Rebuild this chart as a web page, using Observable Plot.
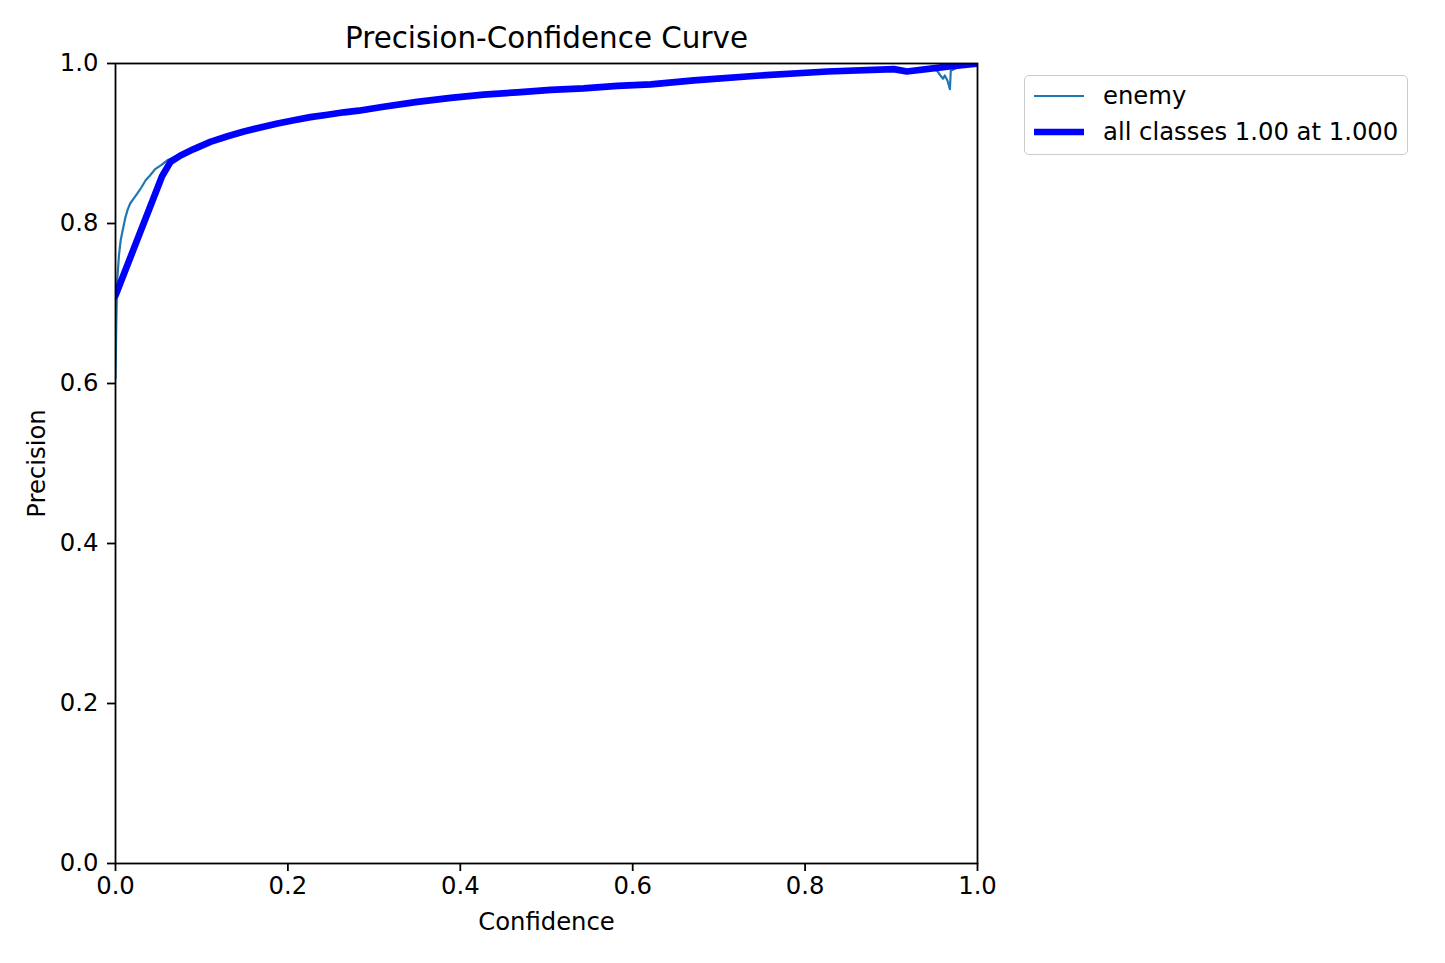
<!DOCTYPE html>
<html>
<head>
<meta charset="utf-8">
<script src="https://cdn.jsdelivr.net/npm/d3@7"></script>
<script src="https://cdn.jsdelivr.net/npm/@observablehq/plot@0.6"></script>
<style>
  html, body { margin: 0; padding: 0; background: white; }
  #wrap { position: relative; width: 1445px; height: 963px; font-family: "DejaVu Sans", sans-serif; }
  #legend { position: absolute; left: 1024px; top: 75px; width: 382px; height: 78px;
            border: 1.5px solid #cccccc; border-radius: 5px; background: rgba(255,255,255,0.8); }
  .row { position: absolute; left: 0; height: 30px; width: 100%; }
  .row svg { position: absolute; left: 6px; top: 0; }
  .row span { position: absolute; left: 78px; top: 0; line-height: 30px; font-size: 24.3px; color: black; white-space: nowrap; }
</style>
</head>
<body>
<div id="wrap">
  <div id="chart"></div>
  <div id="legend"></div>
</div>
<script>
// ---- data ----
const enemyConf = [0, 0.001, 0.002, 0.004, 0.006, 0.009, 0.0116, 0.014, 0.017, 0.021, 0.025, 0.030, 0.035, 0.040, 0.046, 0.053, 0.060, 0.066, 0.0716, 0.0800, 0.0908, 0.110, 0.130, 0.149, 0.168, 0.188, 0.207, 0.226, 0.246, 0.265, 0.282, 0.311, 0.350, 0.389, 0.427, 0.466, 0.505, 0.543, 0.582, 0.621, 0.671, 0.748, 0.826, 0.903, 0.918, 0.930, 0.945, 0.953, 0.957, 0.960, 0.962, 0.965, 0.968, 0.969, 0.980, 1.000];
const enemyPrec = [0.606, 0.680, 0.729, 0.760, 0.779, 0.795, 0.808, 0.817, 0.825, 0.831, 0.837, 0.845, 0.854, 0.860, 0.868, 0.873, 0.879, 0.882, 0.885, 0.888, 0.893, 0.902, 0.909, 0.915, 0.920, 0.925, 0.929, 0.933, 0.936, 0.939, 0.941, 0.946, 0.952, 0.957, 0.961, 0.964, 0.967, 0.969, 0.972, 0.974, 0.979, 0.985, 0.990, 0.993, 0.990, 0.992, 0.994, 0.991, 0.985, 0.981, 0.985, 0.979, 0.968, 0.991, 0.997, 1.000];

const allConf = [0, 0.054, 0.0638, 0.0754, 0.0908, 0.110, 0.130, 0.149, 0.168, 0.188, 0.207, 0.226, 0.246, 0.265, 0.282, 0.311, 0.350, 0.389, 0.427, 0.466, 0.505, 0.543, 0.582, 0.621, 0.671, 0.748, 0.826, 0.903, 0.918, 0.965, 1.000];
const allPrec = [0.710, 0.859, 0.877, 0.885, 0.893, 0.902, 0.909, 0.915, 0.920, 0.925, 0.929, 0.933, 0.936, 0.939, 0.941, 0.946, 0.952, 0.957, 0.961, 0.964, 0.967, 0.969, 0.972, 0.974, 0.979, 0.985, 0.990, 0.993, 0.990, 0.996, 1.000];

const xTicks = [0, 0.2, 0.4, 0.6, 0.8, 1.0];
const yTicks = [0, 0.2, 0.4, 0.6, 0.8, 1.0];

const seriesNames = ["enemy", "all classes 1.00 at 1.000"];
const seriesColors = ["#1f77b4", "#0000ff"];
const seriesWidths = [2.2, 6.7];

const titleText = "Precision-Confidence Curve";
const xLabel = "Confidence";
const yLabel = "Precision";

// ---- build ----
const enemy = enemyConf.map((c, i) => ({c, p: enemyPrec[i]}));
const all = allConf.map((c, i) => ({c, p: allPrec[i]}));

const chart = Plot.plot({
  width: 1445,
  height: 963,
  marginLeft: 115,
  marginRight: 468,
  marginTop: 63,
  marginBottom: 100,
  x: {domain: [0, 1]},
  y: {domain: [0, 1]},
  style: {fontFamily: "'DejaVu Sans', sans-serif", fontSize: "24.3px", background: "white", color: "black"},
  marks: [
    Plot.line(enemy, {x: "c", y: "p", stroke: seriesColors[0], strokeWidth: seriesWidths[0], clip: true, strokeLinejoin: "round"}),
    Plot.line(all, {x: "c", y: "p", stroke: seriesColors[1], strokeWidth: seriesWidths[1], clip: true, strokeLinejoin: "round"}),
    Plot.frame({stroke: "black", strokeWidth: 1.8}),
    Plot.axisX({ticks: xTicks, tickFormat: d3.format(".1f"), tickSize: 8, tickPadding: 5, label: null, fontSize: 24.3, strokeWidth: 1.8}),
    Plot.axisY({ticks: yTicks, tickFormat: d3.format(".1f"), tickSize: 8, tickPadding: 9, label: null, fontSize: 24.3, strokeWidth: 1.8}),
    Plot.text([yLabel], {text: d => d, frameAnchor: "left", dx: -78, rotate: -90, textAnchor: "middle", lineAnchor: "middle", fontSize: 24.3, fill: "black"}),
    Plot.text([xLabel], {text: d => d, frameAnchor: "bottom", dy: 59, textAnchor: "middle", lineAnchor: "middle", fontSize: 24.3, fill: "black"}),
    Plot.text([titleText], {text: d => d, frameAnchor: "top", dy: -25, textAnchor: "middle", lineAnchor: "middle", fontSize: 29.4, fill: "black"})
  ]
});
document.getElementById("chart").appendChild(chart);

// legend
const legend = document.getElementById("legend");
const rowTops = [5, 41];
seriesNames.forEach((name, i) => {
  const row = document.createElement("div");
  row.className = "row";
  row.style.top = rowTops[i] + "px";
  row.innerHTML = `<svg width="56" height="30"><line x1="3" x2="53" y1="15" y2="15" stroke="${seriesColors[i]}" stroke-width="${seriesWidths[i]}"/></svg><span>${name}</span>`;
  legend.appendChild(row);
});
</script>
</body>
</html>
